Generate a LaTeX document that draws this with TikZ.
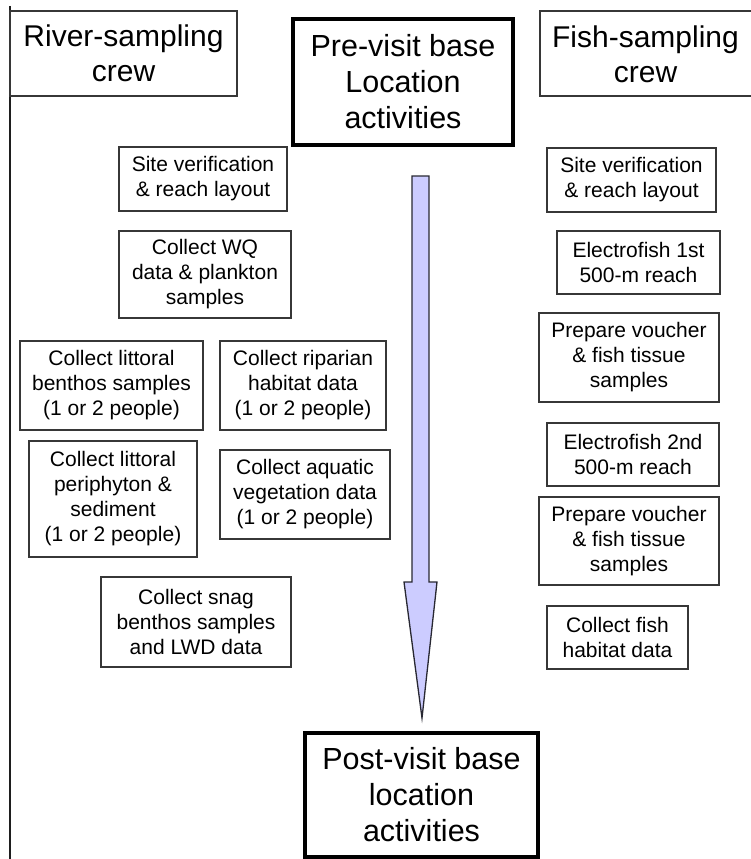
\documentclass[tikz,border=0pt]{standalone}
\usepackage{fontspec}
\setmainfont{Liberation Sans}
\definecolor{framegray}{RGB}{30,30,30}
\definecolor{boxgray}{RGB}{55,55,55}
\definecolor{arrowfill}{RGB}{204,204,255}
\definecolor{arrowline}{RGB}{40,40,50}
\begin{document}
\begin{tikzpicture}[x=1pt,y=-1pt,
  smallbox/.style={draw=boxgray, line width=1.3pt, inner sep=0pt, align=center,
    font=\fontsize{21}{25}\selectfont},
  bigbox/.style={draw=black, line width=3.5pt, inner sep=0pt, align=center,
    font=\fontsize{30.5}{36}\selectfont},
  headbox/.style={draw=boxgray, line width=1.3pt, inner sep=0pt, align=center,
    font=\fontsize{30}{35}\selectfont},
  headtext/.style={inner sep=0pt, align=center, font=\fontsize{30}{35}\selectfont},
  flowarrow/.style={draw=arrowline, line width=1.3pt, line join=miter, fill=arrowfill}]
\useasboundingbox (0,0) rectangle (751,859);
% frame edge on the left
\coordinate (ftop) at (10,6);
\coordinate (fbot) at (10,859);
\draw[framegray, line width=1.3pt] (ftop) -- (fbot);
% headers
\node[headbox, minimum width=227pt, minimum height=85pt] (river) at (123.5,53.5) {River-sampling\\crew};
\node[bigbox, minimum width=220pt, minimum height=126pt] (pre) at (403,82) {Pre-visit base\\Location\\activities};
\coordinate (fa) at (751,11);
\coordinate (fb) at (540,11);
\coordinate (fc) at (540,96);
\coordinate (fd) at (751,96);
\draw[boxgray, line width=1.3pt] (fa) -- (fb) -- (fc) -- (fd);
\node[headtext] (fish) at (645.5,54) {Fish-sampling\\crew};
% left column
\node[smallbox, minimum width=168pt, minimum height=64pt] (siteL) at (203,179) {Site verification\\\& reach layout};
\node[smallbox, minimum width=172pt, minimum height=87pt] (wq) at (205,274.5) {Collect WQ\\data \& plankton\\samples};
\node[smallbox, minimum width=183pt, minimum height=89pt] (benth) at (111.5,385.5) {Collect littoral\\benthos samples\\(1 or 2 people)};
\node[smallbox, minimum width=166pt, minimum height=89pt] (ripar) at (303,385.5) {Collect riparian\\habitat data\\(1 or 2 people)};
\node[smallbox, minimum width=168pt, minimum height=116pt] (peri) at (113,499) {Collect littoral\\periphyton \&\\sediment\\(1 or 2 people)};
\node[smallbox, minimum width=170pt, minimum height=89pt] (aqua) at (305,494.5) {Collect aquatic\\vegetation data\\(1 or 2 people)};
\node[smallbox, minimum width=190pt, minimum height=90pt] (snag) at (196,622) {Collect snag\\benthos samples\\and LWD data};
% right column
\node[smallbox, minimum width=169pt, minimum height=64pt] (siteR) at (631.5,180) {Site verification\\\& reach layout};
\node[smallbox, minimum width=163pt, minimum height=63pt] (ef1) at (638.5,262.5) {Electrofish 1st\\ 500-m reach};
\node[smallbox, minimum width=180pt, minimum height=89pt] (pv1) at (629,357.5) {Prepare voucher\\\& fish tissue\\samples};
\node[smallbox, minimum width=172pt, minimum height=63pt] (ef2) at (633,454.5) {Electrofish 2nd\\500-m reach};
\node[smallbox, minimum width=180pt, minimum height=88pt] (pv2) at (629,541) {Prepare voucher\\\& fish tissue\\samples};
\node[smallbox, minimum width=141pt, minimum height=63pt] (cf) at (617.5,637.5) {Collect fish\\habitat data};
% bottom
\node[bigbox, minimum width=233pt, minimum height=124pt] (post) at (421.5,795) {Post-visit base\\location\\activities};
% block arrow
\coordinate (atip) at (422,718);
\draw[flowarrow] (412,176) -- (429,176) -- (429,582) -- (437,582) -- (atip) -- (404,582) -- (412,582) -- cycle;
\end{tikzpicture}
\end{document}
